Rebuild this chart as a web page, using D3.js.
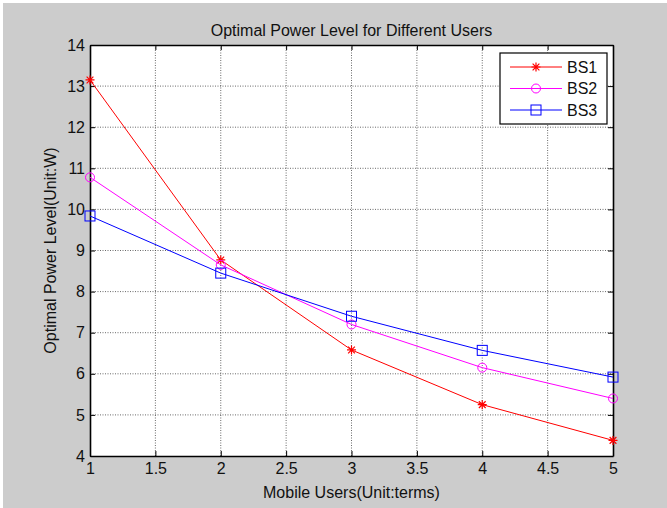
<!DOCTYPE html>
<html>
<head>
<meta charset="utf-8">
<script src="https://cdn.jsdelivr.net/npm/d3@7"></script>
<style>
  body { margin: 0; background: #fff; }
  svg text { font-family: "Liberation Sans", Arial, sans-serif; fill: #111; }
</style>
</head>
<body>
<div id="chart"></div>
<script>
// data
const users = [1, 2, 3, 4, 5];
const bs1 = [13.15, 8.77, 6.58, 5.25, 4.38];
const bs2 = [10.78, 8.65, 7.2, 6.15, 5.4];
const bs3 = [9.84, 8.45, 7.4, 6.57, 5.92];
const seriesNames = ["BS1", "BS2", "BS3"];
const xTicks = [1, 1.5, 2, 2.5, 3, 3.5, 4, 4.5, 5];
const yTicks = [4, 5, 6, 7, 8, 9, 10, 11, 12, 13, 14];

const W = 667, H = 508;
const margin = {top: 45, right: 54, bottom: 52, left: 90};
const width = W - margin.left - margin.right;
const height = H - margin.top - margin.bottom;

const svg = d3.select("#chart").append("svg")
    .attr("width", W)
    .attr("height", H);

// figure background (matlab grey)
svg.append("rect")
    .attr("x", 3).attr("y", 3)
    .attr("width", W - 3).attr("height", H - 3)
    .attr("fill", "#cccccc");

const g = svg.append("g")
    .attr("transform", "translate(" + margin.left + "," + margin.top + ")");

g.append("rect")
    .attr("width", width).attr("height", height)
    .attr("fill", "#fff");

const x = d3.scaleLinear().domain([1, 5]).range([0, width]);
const y = d3.scaleLinear().domain([4, 14]).range([height, 0]);

// dotted grid
g.append("g").selectAll("line")
    .data(xTicks.slice(1, -1))
    .join("line")
    .attr("x1", d => x(d)).attr("x2", d => x(d))
    .attr("y1", 0).attr("y2", height)
    .attr("stroke", "#444").attr("stroke-width", 0.8)
    .attr("stroke-dasharray", "1,1.5");
g.append("g").selectAll("line")
    .data(yTicks.slice(1, -1))
    .join("line")
    .attr("y1", d => y(d)).attr("y2", d => y(d))
    .attr("x1", 0).attr("x2", width)
    .attr("stroke", "#444").attr("stroke-width", 0.8)
    .attr("stroke-dasharray", "1,1.5");

// axes, ticks pointing inwards on all four sides
const axisStyle = sel => {
    sel.selectAll("text").style("font-size", "16px").style("fill", "#111");
    sel.select(".domain").attr("stroke", "#000").attr("stroke-width", 1.6);
    sel.selectAll(".tick line").attr("stroke", "#000");
};
g.append("g")
    .attr("transform", "translate(0," + height + ")")
    .call(d3.axisBottom(x).tickValues(xTicks).tickSizeInner(-5).tickSizeOuter(0).tickPadding(7).tickFormat(d3.format("")))
    .call(axisStyle);
g.append("g")
    .call(d3.axisLeft(y).tickValues(yTicks).tickSizeInner(-5).tickSizeOuter(0).tickPadding(5))
    .call(axisStyle);
g.append("g")
    .call(d3.axisTop(x).tickValues(xTicks).tickSizeInner(-5).tickSizeOuter(0).tickFormat(""))
    .call(axisStyle);
g.append("g")
    .attr("transform", "translate(" + width + ",0)")
    .call(d3.axisRight(y).tickValues(yTicks).tickSizeInner(-5).tickSizeOuter(0).tickFormat(""))
    .call(axisStyle);

// series
const series = [
    {name: seriesNames[0], values: bs1, color: "#ff0000", marker: "star"},
    {name: seriesNames[1], values: bs2, color: "#ff00ff", marker: "circle"},
    {name: seriesNames[2], values: bs3, color: "#0000ff", marker: "square"}
];

const line = d3.line()
    .x((d, i) => x(users[i]))
    .y(d => y(d));

function drawMarker(sel, type, color) {
    if (type === "circle") {
        sel.append("circle").attr("r", 4.5)
            .attr("fill", "none").attr("stroke", color).attr("stroke-width", 1);
    } else if (type === "square") {
        sel.append("rect").attr("x", -5).attr("y", -5).attr("width", 10).attr("height", 10)
            .attr("fill", "none").attr("stroke", color).attr("stroke-width", 1);
    } else {
        const r = 4.5;
        const p = "M" + -r + ",0H" + r + "M0," + -r + "V" + r
            + "M" + -r * 0.75 + "," + -r * 0.75 + "L" + r * 0.75 + "," + r * 0.75
            + "M" + -r * 0.75 + "," + r * 0.75 + "L" + r * 0.75 + "," + -r * 0.75;
        sel.append("path").attr("d", p).attr("stroke", color).attr("stroke-width", 1.2).attr("fill", "none");
    }
}

series.forEach(s => {
    g.append("path")
        .datum(s.values)
        .attr("d", line)
        .attr("fill", "none")
        .attr("stroke", s.color)
        .attr("stroke-width", 1);
    g.append("g").selectAll("g")
        .data(s.values)
        .join("g")
        .attr("transform", (d, i) => "translate(" + x(users[i]) + "," + y(d) + ")")
        .each(function() { drawMarker(d3.select(this), s.marker, s.color); });
});

// legend
const lg = svg.append("g").attr("transform", "translate(500,53)");
lg.append("rect")
    .attr("width", 107).attr("height", 71)
    .attr("fill", "#fff").attr("stroke", "#000").attr("stroke-width", 1.2);
series.forEach((s, i) => {
    const row = lg.append("g").attr("transform", "translate(0," + (14 + i * 21.5) + ")");
    row.append("line").attr("x1", 10).attr("x2", 62)
        .attr("stroke", s.color).attr("stroke-width", 1);
    drawMarker(row.append("g").attr("transform", "translate(36,0)"), s.marker, s.color);
    row.append("text").attr("x", 67).attr("dy", "0.36em")
        .style("font-size", "16px").text(s.name);
});

// title and axis labels
svg.append("text")
    .attr("x", margin.left + width / 2).attr("y", 36)
    .attr("text-anchor", "middle")
    .style("font-size", "16px")
    .text("Optimal Power Level for Different Users");
svg.append("text")
    .attr("x", margin.left + width / 2).attr("y", 498)
    .attr("text-anchor", "middle")
    .style("font-size", "16px")
    .text("Mobile Users(Unit:terms)");
svg.append("text")
    .attr("transform", "translate(56," + (margin.top + height / 2) + ") rotate(-90)")
    .attr("text-anchor", "middle")
    .style("font-size", "16px")
    .text("Optimal Power Level(Unit:W)");
</script>
</body>
</html>
